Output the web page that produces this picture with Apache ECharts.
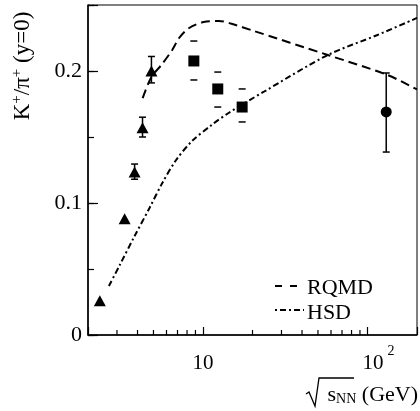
<!DOCTYPE html>
<html>
<head>
<meta charset="utf-8">
<script src="https://cdn.jsdelivr.net/npm/echarts@6/dist/echarts.min.js"></script>
<style>html,body{margin:0;padding:0;background:#fff}#c{width:420px;height:411px}</style>
</head>
<body>
<div id="c"></div>
<script>
// ---- data ----
var triX = [2.36, 3.34, 3.84, 4.29, 4.86];
var triY = [0.026, 0.088, 0.1235, 0.157, 0.200];
var triLo = [null, null, 0.118, 0.150, 0.191];
var triHi = [null, null, 0.1295, 0.165, 0.211];

var sqX = [8.8, 12.3, 17.3];
var sqY = [0.2076, 0.1864, 0.1727];
var sqLo = [0.1932, 0.1727, 0.1614];
var sqHi = [0.2227, 0.1992, 0.1864];

var circX = [130];
var circY = [0.169];
var circLo = [0.1386];
var circHi = [0.1985];

var rqmdX = [4.30, 4.86, 5.58, 6.50, 7.16, 8.24, 10.1, 12.5, 15.8, 19.5, 57.4, 132, 200];
var rqmdY = [0.1795, 0.1955, 0.2045, 0.2159, 0.225, 0.2326, 0.2371, 0.2379, 0.2348, 0.2311, 0.2121, 0.197, 0.186];

var hsdX = [2.68, 3.12, 3.84, 4.73, 5.66, 6.87, 8.59, 11.3, 14.3, 23.3, 57.4, 115, 200];
var hsdY = [0.0371, 0.0530, 0.075, 0.0962, 0.1152, 0.1326, 0.147, 0.1591, 0.1682, 0.1841, 0.2121, 0.2273, 0.2402];

var xMinorTicks = [3, 4, 5, 6, 7, 8, 9, 20, 30, 40, 50, 60, 70, 80, 90];
var seriesNames = ['RQMD', 'HSD'];

// ---- build ----
var FONT = "'Liberation Serif', 'DejaVu Serif', serif";
var DASH_RQMD = [9, 5];
var DASH_HSD = [6, 3, 2, 3];
function pairs(xs, ys) { return xs.map(function (x, i) { return [x, ys[i]]; }); }

var errData = [];
triX.forEach(function (x, i) { if (triLo[i] != null) errData.push([x, triLo[i], triHi[i], 1]); });
sqX.forEach(function (x, i) { errData.push([x, sqLo[i], sqHi[i], 0]); });
circX.forEach(function (x, i) { errData.push([x, circLo[i], circHi[i], 1]); });

var chart = echarts.init(document.getElementById('c'), null, { renderer: 'canvas' });
chart.setOption({
  animation: false,
  backgroundColor: '#fff',
  grid: { left: 88, right: 2, top: 5, bottom: 76, show: true, borderColor: '#000', borderWidth: 1, backgroundColor: 'transparent' },
  xAxis: [{
    type: 'log', logBase: 10, min: 2, max: 200, position: 'bottom',
    axisLine: { lineStyle: { color: '#000', width: 1.5 } },
    axisTick: { inside: true, length: 8, lineStyle: { color: '#000', width: 1.2 } },
    splitLine: { show: false },
    axisLabel: {
      margin: 9, color: '#000', fontFamily: FONT, fontSize: 21,
      formatter: function (v) {
        if (Math.abs(v - 10) < 1e-6) return '{a|10}';
        if (Math.abs(v - 100) < 1e-4) return '{b|10}{s|2}';
        return '';
      },
      rich: {
        a: { fontFamily: FONT, fontSize: 21, color: '#000', lineHeight: 30, verticalAlign: 'bottom' },
        b: { fontFamily: FONT, fontSize: 21, color: '#000', lineHeight: 30, verticalAlign: 'bottom', padding: [0, 0, 0, 22] },
        s: { fontFamily: FONT, fontSize: 14, color: '#000', lineHeight: 14, verticalAlign: 'top', padding: [0, 0, 0, 4] }
      }
    }
  }],
  yAxis: [{
    type: 'value', min: 0, max: 0.25, interval: 0.1, position: 'left',
    axisLine: { show: true, lineStyle: { color: '#000', width: 1.5 } },
    axisTick: { show: true, inside: true, length: 10, lineStyle: { color: '#000', width: 1.2 } },
    splitLine: { show: false },
    axisLabel: {
      margin: 6, color: '#000', fontFamily: FONT, fontSize: 22,
      formatter: function (v) {
        if (Math.abs(v) < 1e-9) return '0';
        if (v > 0.24) return '';
        return v.toFixed(1);
      }
    }
  }, {
    type: 'value', min: 0, max: 0.25, interval: 0.05, position: 'left',
    axisLine: { show: false },
    axisTick: { show: true, inside: true, length: 6, lineStyle: { color: '#000', width: 1.2 } },
    splitLine: { show: false },
    axisLabel: { show: false }
  }],
  graphic: [{
    type: 'text', x: 22, y: 66, rotation: Math.PI / 2,
    style: {
      text: '{a|K}{s|+}{a|/π}{s|+}{a| (y=0)}',
      align: 'center', verticalAlign: 'middle',
      rich: {
        a: { fontFamily: FONT, fontSize: 23, fill: '#000', lineHeight: 25, verticalAlign: 'bottom' },
        s: { fontFamily: FONT, fontSize: 15, fill: '#000', lineHeight: 15, verticalAlign: 'top' }
      }
    }
  }, {
    type: 'text', x: 418, y: 394,
    style: {
      text: '{s|s}{n|NN}{t| (GeV)}',
      align: 'right', verticalAlign: 'middle',
      rich: {
        s: { fontFamily: FONT, fontSize: 22, fill: '#000', lineHeight: 24, verticalAlign: 'bottom' },
        n: { fontFamily: FONT, fontSize: 14, fill: '#000', lineHeight: 14, verticalAlign: 'bottom' },
        t: { fontFamily: FONT, fontSize: 22, fill: '#000', lineHeight: 24, verticalAlign: 'bottom' }
      }
    }
  }, {
    type: 'polyline', shape: { points: [[306, 394], [309, 392], [315, 406], [319, 378], [354, 378]] },
    style: { stroke: '#000', lineWidth: 1.3, fill: null }
  }, {
    type: 'line', shape: { x1: 275, y1: 286, x2: 299, y2: 286 },
    style: { stroke: '#000', lineWidth: 2, lineDash: [7, 8] }
  }, {
    type: 'text', x: 307, y: 288,
    style: { text: seriesNames[0], fontFamily: FONT, fontSize: 22, fill: '#000', align: 'left', verticalAlign: 'middle' }
  }, {
    type: 'line', shape: { x1: 275, y1: 310, x2: 304, y2: 310 },
    style: { stroke: '#000', lineWidth: 2, lineDash: [2, 3, 6, 3] }
  }, {
    type: 'text', x: 307, y: 313,
    style: { text: seriesNames[1], fontFamily: FONT, fontSize: 22, fill: '#000', align: 'left', verticalAlign: 'middle' }
  }],
  series: [{
    name: seriesNames[0], type: 'line', data: pairs(rqmdX, rqmdY), smooth: 0.3,
    symbol: 'none', showSymbol: false, color: '#000',
    lineStyle: { color: '#000', width: 2, type: DASH_RQMD }, z: 3
  }, {
    name: seriesNames[1], type: 'line', data: pairs(hsdX, hsdY), smooth: 0.3,
    symbol: 'none', showSymbol: false, color: '#000',
    lineStyle: { color: '#000', width: 2, type: DASH_HSD }, z: 3
  }, {
    name: 'err', type: 'custom', data: errData, z: 4,
    renderItem: function (params, api) {
      var x = api.value(0);
      var b = api.coord([x, api.value(1)]);
      var t = api.coord([x, api.value(2)]);
      var hw = 3.5;
      var st = { stroke: '#000', lineWidth: 1.5 };
      var ch = [
        { type: 'line', shape: { x1: b[0] - hw, y1: b[1], x2: b[0] + hw, y2: b[1] }, style: st },
        { type: 'line', shape: { x1: t[0] - hw, y1: t[1], x2: t[0] + hw, y2: t[1] }, style: st }
      ];
      if (api.value(3) === 1) ch.push({ type: 'line', shape: { x1: b[0], y1: b[1], x2: t[0], y2: t[1] }, style: st });
      return { type: 'group', children: ch };
    }
  }, {
    name: 'minor', type: 'custom', data: xMinorTicks.map(function (v) { return [v, 0]; }), z: 4, silent: true,
    renderItem: function (params, api) {
      var p = api.coord([api.value(0), 0]);
      return { type: 'line', shape: { x1: p[0], y1: p[1], x2: p[0], y2: p[1] - 5 }, style: { stroke: '#000', lineWidth: 1.2 } };
    }
  }, {
    name: 'tri', type: 'scatter', data: pairs(triX, triY), symbol: 'triangle', symbolSize: [12, 11],
    itemStyle: { color: '#000', opacity: 1 }, z: 5
  }, {
    name: 'sq', type: 'scatter', data: pairs(sqX, sqY), symbol: 'rect', symbolSize: 11,
    itemStyle: { color: '#000', opacity: 1 }, z: 5
  }, {
    name: 'circ', type: 'scatter', data: pairs(circX, circY), symbol: 'circle', symbolSize: 11,
    itemStyle: { color: '#000', opacity: 1 }, z: 5
  }]
});
</script>
</body>
</html>
